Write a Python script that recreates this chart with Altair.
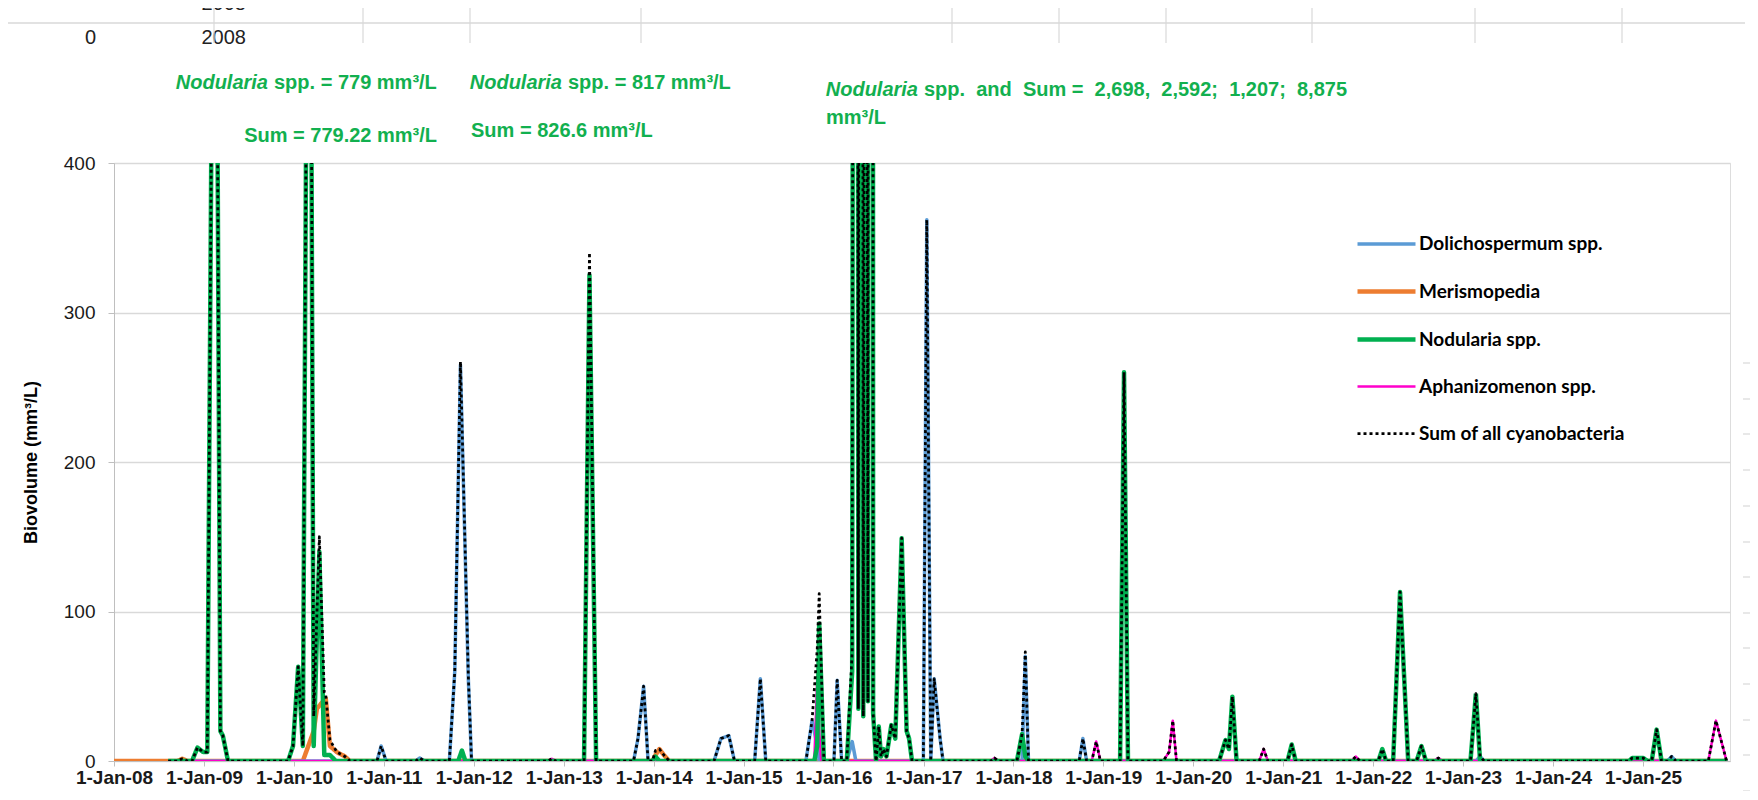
import altair as alt
import pandas as pd

# ---------------- data ----------------
SERIES = ["Dolichospermum spp.", "Merismopedia", "Nodularia spp.",
          "Aphanizomenon spp.", "Sum of all cyanobacteria"]

DOLI_DATES = ["2008-08-08", "2010-12-04", "2010-12-21", "2011-01-10", "2011-05-10", "2011-05-27",
              "2011-06-15", "2011-09-24", "2011-10-16", "2011-11-08", "2011-12-10", "2011-12-23",
              "2013-10-11", "2013-10-29", "2013-11-21", "2013-12-09", "2014-09-03", "2014-10-01",
              "2014-11-02", "2014-11-25", "2015-02-15", "2015-03-10", "2015-04-01", "2015-09-11",
              "2015-10-06", "2015-10-27", "2015-11-04", "2016-01-03", "2016-01-16", "2016-02-03",
              "2016-02-24", "2016-03-17", "2016-04-01", "2016-12-31", "2017-01-14", "2017-01-30",
              "2017-02-13", "2017-03-09", "2017-03-21", "2018-02-05", "2018-02-18", "2018-03-03",
              "2018-09-25", "2018-10-10", "2018-10-25", "2023-02-22", "2023-03-11", "2023-03-28",
              "2025-04-10", "2025-04-27", "2025-05-14", "2025-12-10"]
DOLI_VALUES = [0, 0, 10, 0, 0, 2,
               0, 0, 60, 265, 55, 0,
               0, 15, 50, 0, 0, 15,
               17, 0, 0, 55, 0, 0,
               27, 10, 0, 0, 54, 0,
               0, 13, 0, 0, 362, 0,
               55, 15, 0, 0, 70, 0,
               0, 15, 0, 0, 3, 0,
               0, 3, 0, 0]

MERIS_DATES = ["2008-01-01", "2008-09-15", "2008-10-04", "2008-10-25", "2010-02-06", "2010-03-22",
               "2010-04-04", "2010-05-10", "2010-05-27", "2010-06-24", "2010-07-27", "2010-08-16",
               "2013-12-27", "2014-01-08", "2014-01-24", "2014-02-11", "2014-03-05", "2025-12-10"]
MERIS_VALUES = [0, 0, 1.5, 0, 0, 20,
                35, 42, 10, 6, 3, 0,
                0, 4, 8, 4, 0, 0]

NODU_DATES = ["2008-08-08", "2008-11-13", "2008-12-05", "2008-12-28", "2009-01-14", "2009-02-14",
              "2009-03-08", "2009-03-18", "2009-04-08", "2009-12-08", "2009-12-28", "2010-01-18",
              "2010-02-06", "2010-03-04", "2010-03-22", "2010-04-14", "2010-05-04", "2010-05-27",
              "2010-06-20", "2011-10-30", "2011-11-14", "2011-11-28", "2013-03-24", "2013-04-15",
              "2013-05-12", "2013-12-27", "2014-01-08", "2014-01-24", "2015-10-15", "2015-10-27",
              "2015-11-04", "2015-11-23", "2016-02-24", "2016-03-17", "2016-04-01", "2016-04-11",
              "2016-04-21", "2016-05-01", "2016-05-11", "2016-05-20", "2016-05-29", "2016-06-10",
              "2016-06-22", "2016-07-03", "2016-07-12", "2016-07-22", "2016-08-03", "2016-08-23",
              "2016-09-08", "2016-10-04", "2016-10-24", "2016-11-03", "2016-11-15", "2018-01-15",
              "2018-02-05", "2018-02-18", "2018-03-03", "2019-03-10", "2019-03-26", "2019-04-11",
              "2020-04-15", "2020-05-11", "2020-05-25", "2020-06-08", "2020-06-25", "2021-01-18",
              "2021-02-04", "2021-02-20", "2022-01-22", "2022-02-07", "2022-02-22", "2022-03-23",
              "2022-04-20", "2022-05-23", "2022-06-26", "2022-07-16", "2022-08-03", "2023-01-31",
              "2023-02-22", "2023-03-11", "2024-11-05", "2024-11-18", "2025-01-01", "2025-01-20",
              "2025-02-05", "2025-02-25", "2025-03-17", "2025-12-10"]
NODU_VALUES = [0, 0, 9, 6, 6, 779,
               20, 17, 0, 0, 10, 63,
               10, 817, 10, 140, 4, 4,
               0, 0, 7, 0, 0, 325,
               0, 0, 3, 0, 0, 10,
               92, 0, 0, 60, 2698, 35,
               2592, 30, 1207, 40, 8875, 32,
               0, 23, 3, 8, 3, 24,
               15, 149, 20, 15, 0, 0,
               18, 3, 0, 0, 260, 0,
               0, 14, 8, 43, 0, 0,
               11, 0, 0, 8, 0, 0,
               113, 0, 0, 10, 0, 0,
               45, 0, 0, 2, 2, 0,
               0, 21, 0, 0]

APHA_DATES = ["2008-08-08", "2012-10-28", "2012-11-13", "2012-11-29", "2015-10-15", "2015-10-27",
              "2015-11-04", "2015-11-12", "2017-10-01", "2017-10-16", "2017-10-31", "2018-11-15",
              "2018-12-03", "2018-12-20", "2019-09-01", "2019-09-25", "2019-10-10", "2019-10-25",
              "2020-09-25", "2020-10-13", "2020-10-30", "2021-10-05", "2021-10-22", "2021-11-08",
              "2022-09-05", "2022-09-22", "2022-10-10", "2025-09-23", "2025-10-24", "2025-12-06",
              "2025-12-10"]
APHA_VALUES = [0, 0, 1.5, 0, 0, 55,
               20, 0, 0, 2, 0, 0,
               13, 0, 0, 6, 27, 0,
               0, 8, 0, 0, 3, 0,
               0, 2, 0, 0, 27, 0,
               0]

SUM_DATES = ["2008-08-08", "2008-09-15", "2008-10-04", "2008-10-25", "2008-11-13", "2008-12-05",
             "2008-12-28", "2009-01-14", "2009-02-14", "2009-03-08", "2009-03-18", "2009-04-08",
             "2009-12-08", "2009-12-28", "2010-01-18", "2010-02-06", "2010-03-04", "2010-03-22",
             "2010-04-14", "2010-05-04", "2010-05-10", "2010-05-27", "2010-06-24", "2010-07-27",
             "2010-08-16", "2010-12-04", "2010-12-21", "2011-01-10", "2011-05-10", "2011-05-27",
             "2011-06-15", "2011-09-24", "2011-10-16", "2011-11-08", "2011-12-10", "2011-12-23",
             "2012-10-28", "2012-11-13", "2012-11-29", "2013-03-24", "2013-04-15", "2013-05-12",
             "2013-10-11", "2013-10-29", "2013-11-21", "2013-12-09", "2013-12-27", "2014-01-08",
             "2014-01-24", "2014-02-11", "2014-03-05", "2014-09-03", "2014-10-01", "2014-11-02",
             "2014-11-25", "2015-02-15", "2015-03-10", "2015-04-01", "2015-09-11", "2015-10-06",
             "2015-10-27", "2015-11-04", "2015-11-23", "2016-01-03", "2016-01-16", "2016-02-03",
             "2016-02-24", "2016-03-17", "2016-04-01", "2016-04-11", "2016-04-21", "2016-05-01",
             "2016-05-11", "2016-05-20", "2016-05-29", "2016-06-10", "2016-06-22", "2016-07-03",
             "2016-07-12", "2016-07-22", "2016-08-03", "2016-08-23", "2016-09-08", "2016-10-04",
             "2016-10-24", "2016-11-03", "2016-11-15", "2016-12-31", "2017-01-14", "2017-01-30",
             "2017-02-13", "2017-03-09", "2017-03-21", "2017-10-01", "2017-10-16", "2017-10-31",
             "2018-01-15", "2018-02-05", "2018-02-18", "2018-03-03", "2018-09-25", "2018-10-10",
             "2018-10-25", "2018-11-15", "2018-12-03", "2018-12-20", "2019-03-10", "2019-03-26",
             "2019-04-11", "2019-09-01", "2019-09-25", "2019-10-10", "2019-10-25", "2020-04-15",
             "2020-05-11", "2020-05-25", "2020-06-08", "2020-06-25", "2020-09-25", "2020-10-13",
             "2020-10-30", "2021-01-18", "2021-02-04", "2021-02-20", "2021-10-05", "2021-10-22",
             "2021-11-08", "2022-01-22", "2022-02-07", "2022-02-22", "2022-03-23", "2022-04-20",
             "2022-05-23", "2022-06-26", "2022-07-16", "2022-08-03", "2022-09-05", "2022-09-22",
             "2022-10-10", "2023-01-31", "2023-02-22", "2023-03-11", "2023-03-28", "2024-11-05",
             "2024-11-18", "2025-01-01", "2025-01-20", "2025-02-05", "2025-02-25", "2025-03-17",
             "2025-04-10", "2025-04-27", "2025-05-14", "2025-09-23", "2025-10-24", "2025-12-06",
             "2025-12-10"]
SUM_VALUES = [0, 0, 1.5, 0, 0, 9,
              6, 6, 779.22, 20, 17, 0,
              0, 10, 63, 10, 826.6, 30,
              150, 46, 44, 14, 6, 3,
              0, 0, 10, 0, 0, 2,
              0, 0, 60, 267, 57, 0,
              0, 1.5, 0, 0, 340, 0,
              0, 15, 50, 0, 0, 7,
              8, 4, 0, 0, 15, 17,
              0, 0, 55, 0, 0, 27,
              75, 112, 0, 0, 54, 0,
              0, 73, 2698, 35, 2592, 30,
              1207, 40, 8875, 32, 0, 23,
              3, 8, 3, 24, 15, 149,
              20, 15, 0, 0, 362, 0,
              55, 15, 0, 0, 2, 0,
              0, 18, 73, 0, 0, 15,
              0, 0, 13, 0, 0, 260,
              0, 0, 6, 27, 0, 0,
              14, 8, 43, 0, 0, 8,
              0, 0, 11, 0, 0, 3,
              0, 0, 8, 0, 0, 113,
              0, 0, 10, 0, 0, 2,
              0, 0, 45, 3, 0, 0,
              2, 2, 0, 0, 21, 0,
              0, 3, 0, 0, 27, 0,
              0]

YEARS = list(range(2008, 2026))
Y_TICKS = [0, 100, 200, 300, 400]

# ---------------- styling ----------------
COLORS = ["#5B9BD5", "#ED7D31", "#00B050", "#FF00CC", "#000000"]
WIDTHS = [3.5, 4.5, 4.5, 2.5, 2.75]
DASHES = [[1, 0], [1, 0], [1, 0], [1, 0], [3, 3]]
GREEN = "#12B04F"
SANS = "Liberation Sans, Arial, sans-serif"
OX, OY = 114, 163   # page position of the plot origin
NB = "\u00a0"

frames = []
for name, d, v in [(SERIES[0], DOLI_DATES, DOLI_VALUES), (SERIES[1], MERIS_DATES, MERIS_VALUES),
                   (SERIES[2], NODU_DATES, NODU_VALUES), (SERIES[3], APHA_DATES, APHA_VALUES),
                   (SERIES[4], SUM_DATES, SUM_VALUES)]:
    frames.append(pd.DataFrame({"date": d, "value": v, "series": name}))
df = pd.concat(frames, ignore_index=True)

legend = alt.Legend(title=None, orient="none", legendX=1241, legendY=50, symbolType="stroke",
                    symbolSize=3364, labelFont="Lato", labelFontSize=19, labelFontWeight="bold",
                    labelColor="#000000", labelOffset=1, rowPadding=6, padding=0,
                    labelLimit=400)

x_enc = alt.X("date:T", scale=alt.Scale(type="utc", domain=[
    alt.DateTime(year=2008, month=1, date=1, utc=True),
    alt.DateTime(year=2025, month=12, date=20, utc=True)]),
    axis=alt.Axis(values=[alt.DateTime(year=y, month=1, date=1, utc=True) for y in YEARS],
                  labelExpr="'1-Jan-' + utcFormat(datum.value, '%y')",
                  title=None, grid=False, labelFont=SANS, labelFontSize=19,
                  labelFontWeight="bold", labelColor="#1a1a1a", tickSize=5, labelPadding=2,
                  domainColor="#BFBFBF", tickColor="#BFBFBF", labelOverlap=False,
                  labelFlush=False))
y_enc = alt.Y("value:Q", scale=alt.Scale(domain=[0, 400], nice=False),
              axis=alt.Axis(values=Y_TICKS, title="Biovolume (mm³/L)", titleFont=SANS,
                            titleFontSize=18, titleFontWeight="bold", titleColor="#000000",
                            titleX=-83, titleY=299, titleBaseline="middle", titleAngle=270,
                            labelFont=SANS, labelFontSize=19, labelColor="#1a1a1a",
                            tickSize=6, labelPadding=13, gridColor="#D9D9D9", gridWidth=1.3,
                            domainColor="#BFBFBF", tickColor="#BFBFBF"))

enc = dict(
    x=x_enc, y=y_enc,
    color=alt.Color("series:N", scale=alt.Scale(domain=SERIES, range=COLORS), legend=legend),
    strokeDash=alt.StrokeDash("series:N", scale=alt.Scale(domain=SERIES, range=DASHES), legend=legend),
    strokeWidth=alt.StrokeWidth("series:N", scale=alt.Scale(type="ordinal", domain=SERIES, range=WIDTHS),
                                legend=legend),
)

layers = []
for name in [SERIES[1], SERIES[0], SERIES[3], SERIES[2], SERIES[4]]:
    layers.append(alt.Chart(df).transform_filter(alt.datum.series == name)
                  .mark_line(clip=True, strokeJoin="round", strokeCap="butt")
                  .encode(**enc))


def note(text, px, py, align="left", italic=False, size=20, color=GREEN, weight="bold", font=SANS):
    return alt.Chart(pd.DataFrame({"t": [text]})).mark_text(
        align=align, baseline="middle", font=font, fontSize=size, fontWeight=weight,
        fontStyle="italic" if italic else "normal", color=color).encode(
        x=alt.value(px - OX), y=alt.value(py - OY), text="t:N")


wide = ("spp." + NB + " and" + NB + " Sum =" + NB + " 2,698," + NB + " 2,592;" + NB
        + " 1,207;" + NB + " 8,875")
notes = [
    note("Nodularia", 268, 83, align="right", italic=True),
    note("spp. = 779 mm³/L", 274, 83),
    note("Sum = 779.22 mm³/L", 437, 136, align="right"),
    note("Nodularia", 562, 83, align="right", italic=True),
    note("spp. = 817 mm³/L", 568, 83),
    note("Sum = 826.6 mm³/L", 471, 131),
    note("Nodularia", 918, 90, align="right", italic=True),
    note(wide, 924, 90),
    note("mm³/L", 826, 118),
    note("0", 96, 38, align="right", size=20, color="#222222", weight="normal"),
    note("2008", 246, 38, align="right", size=20, color="#222222", weight="normal"),
    note("2008", 246, 4, align="right", size=20, color="#222222", weight="normal"),
]

sheet_v = alt.Chart(pd.DataFrame({"px": [100, 249, 356, 527, 838, 945, 1052, 1198, 1361, 1508, 1659]})).mark_rule(
    color="#D9D9D9", strokeWidth=1.2).encode(
    x=alt.X("px:Q", scale=None), y=alt.value(8 - OY), y2=alt.value(43 - OY))
sheet_h = alt.Chart(pd.DataFrame({"a": [0]})).mark_rule(color="#D9D9D9", strokeWidth=1.5).encode(
    x=alt.value(8 - OX), x2=alt.value(1745 - OX), y=alt.value(23 - OY))
sheet_rows = alt.Chart(pd.DataFrame({"py": [200, 236, 271, 307, 343, 379, 414, 450, 485, 521,
                                            557, 592, 628, 664, 700, 735, 771]})).mark_rule(
    color="#D9D9D9", strokeWidth=1.2).encode(
    y=alt.Y("py:Q", scale=None), x=alt.value(1743 - OX), x2=alt.value(1750 - OX))

chart = alt.layer(*layers, *notes, sheet_h, sheet_v, sheet_rows).properties(
    width=1616, height=598,
    autosize=alt.AutoSizeParams(type="none"),
    padding={"left": OX - 8, "top": OY - 8, "right": 20, "bottom": 30},
).configure_view(stroke=None).configure(background="white")

chart.save("out.html", embed_options={"renderer": "svg", "actions": False})
